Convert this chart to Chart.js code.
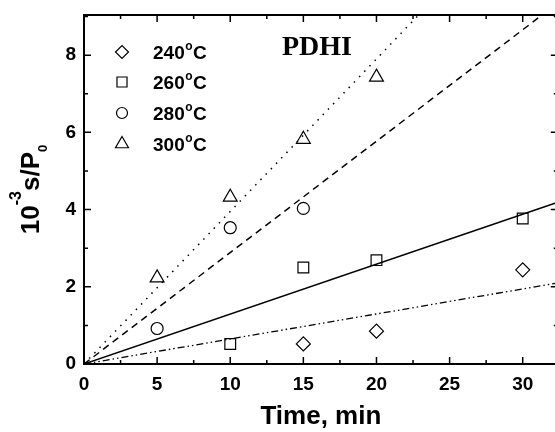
<!DOCTYPE html>
<html>
<head>
<meta charset="utf-8">
<script src="https://cdn.jsdelivr.net/npm/chart.js@4/dist/chart.umd.min.js"></script>
<style>
  html, body { margin: 0; padding: 0; background: #fff; overflow: hidden; }
  #wrap { width: 555px; height: 432px; overflow: hidden; }
  canvas { display: block; }
</style>
</head>
<body>
<div id="wrap"><canvas id="chart" width="567" height="432"></canvas></div>
<script>
const times = [5, 10, 15, 20, 30];
const s240 = [null, null, 0.52, 0.85, 2.44];
const s260 = [null, 0.52, 2.50, 2.69, 3.77];
const s280 = [0.92, 3.53, 4.03, null, null];
const s300 = [2.23, 4.32, 5.82, 7.43, null];

// straight-line fits (start and end points)
const fitX = [0, 32.4];
const fit240 = [0, 2.10];
const fit260 = [0, 4.19];
const fit280 = [0, 9.35];
const fit300 = [0, 12.8];

const labels = ['240', '260', '280', '300'];
const xTicks = [0, 5, 10, 15, 20, 25, 30];
const xMinor = [2.5, 7.5, 12.5, 17.5, 22.5, 27.5, 32.5];
const yTicks = [0, 2, 4, 6, 8];
const yMinor = [1, 3, 5, 7, 9];

const FONT = "'Liberation Sans', Arial, sans-serif";

function pts(xs, ys) {
    const out = [];
    xs.forEach((t, i) => { if (ys[i] !== null) out.push({x: t, y: ys[i]}); });
    return out;
}

const markers = [
    {style: 'rectRot', radius: 7},
    {style: 'rect', radius: 7.6},
    {style: 'circle', radius: 6},
    {style: 'triangle', radius: 8}
];

function pointSet(ys, m) {
    return {
        type: 'scatter',
        data: pts(times, ys),
        pointStyle: m.style,
        pointRadius: m.radius,
        pointBorderWidth: 1.2,
        pointBorderColor: '#000',
        pointBackgroundColor: 'rgba(255,255,255,0)',
        showLine: false
    };
}

function fitSet(ys, dash, width) {
    return {
        type: 'line',
        data: pts(fitX, ys),
        borderColor: '#000',
        borderWidth: width,
        borderDash: dash,
        pointRadius: 0,
        fill: false
    };
}

// ticks pointing inward, plus the box
const framePlugin = {
    id: 'frame',
    afterDatasetsDraw(chart) {
        const {ctx, chartArea: a, scales: {x, y}} = chart;
        ctx.save();
        ctx.strokeStyle = '#000';
        ctx.lineWidth = 2;
        ctx.strokeRect(a.left, a.top, a.right - a.left, a.bottom - a.top);
        ctx.lineWidth = 1.5;
        ctx.beginPath();
        const tick = (v, len, isX) => {
            if (isX) {
                const px = x.getPixelForValue(v);
                ctx.moveTo(px, a.bottom); ctx.lineTo(px, a.bottom - len);
                ctx.moveTo(px, a.top); ctx.lineTo(px, a.top + len);
            } else {
                const py = y.getPixelForValue(v);
                ctx.moveTo(a.left, py); ctx.lineTo(a.left + len, py);
                ctx.moveTo(a.right, py); ctx.lineTo(a.right - len, py);
            }
        };
        xTicks.forEach(v => tick(v, 7, true));
        xMinor.forEach(v => { if (v <= x.max) tick(v, 4, true); });
        yTicks.forEach(v => tick(v, 7, false));
        yMinor.forEach(v => { if (v <= y.max) tick(v, 4, false); });
        ctx.stroke();

        // y axis title with super/subscript
        ctx.fillStyle = '#000';
        ctx.translate(26, (a.top + a.bottom) / 2);
        ctx.rotate(-Math.PI / 2);
        const big = 'bold 26px ' + FONT, sup = 'bold 16px ' + FONT, sub = 'bold 13px ' + FONT;
        const parts = [['10', big, 0], ['-3', sup, -18], ['s/P', big, 0], ['0', sub, 8]];
        let total = 0;
        parts.forEach(p => { ctx.font = p[1]; total += ctx.measureText(p[0]).width; });
        let cx = -total / 2;
        ctx.textBaseline = 'alphabetic';
        ctx.textAlign = 'left';
        parts.forEach(p => {
            ctx.font = p[1];
            ctx.fillText(p[0], cx, 13 + p[2]);
            cx += ctx.measureText(p[0]).width;
        });
        ctx.restore();

        // PDHI label
        ctx.save();
        ctx.fillStyle = '#000';
        ctx.font = "bold 28px 'Liberation Serif', 'Times New Roman', serif";
        ctx.textAlign = 'center';
        ctx.textBaseline = 'alphabetic';
        ctx.fillText('PDHI', 317, 55);

        // legend
        const rowY = [52, 82, 113, 144];
        labels.forEach((lab, i) => {
            const m = markers[i];
            ctx.lineWidth = 1.2;
            ctx.strokeStyle = '#000';
            ctx.fillStyle = 'rgba(255,255,255,0)';
            Chart.helpers.drawPoint(ctx, {pointStyle: m.style, radius: m.radius - 0.5, borderWidth: 1.2}, 122, rowY[i]);
            ctx.fillStyle = '#000';
            ctx.textBaseline = 'alphabetic';
            ctx.textAlign = 'left';
            ctx.font = 'bold 19px ' + FONT;
            let tx = 153;
            const base = rowY[i] + 7;
            ctx.fillText(lab, tx, base);
            tx += ctx.measureText(lab).width + 0.5;
            ctx.font = 'bold 12px ' + FONT;
            ctx.fillText('o', tx, base - 9);
            tx += ctx.measureText('o').width + 0.5;
            ctx.font = 'bold 19px ' + FONT;
            ctx.fillText('C', tx, base);
        });
        ctx.restore();
    }
};

new Chart(document.getElementById('chart'), {
    data: {
        datasets: [
            fitSet(fit240, [7, 3, 1.5, 3, 1.5, 3], 1.3),
            fitSet(fit260, [], 1.5),
            fitSet(fit280, [7, 5], 1.5),
            fitSet(fit300, [1.5, 6], 1.5),
            pointSet(s240, markers[0]),
            pointSet(s260, markers[1]),
            pointSet(s280, markers[2]),
            pointSet(s300, markers[3])
        ]
    },
    options: {
        responsive: false,
        animation: false,
        layout: {padding: {top: 15, right: 1, left: 0, bottom: 0}},
        plugins: {legend: {display: false}, tooltip: {enabled: false}},
        scales: {
            x: {
                type: 'linear',
                min: 0,
                max: 32.4,
                grid: {display: false, drawTicks: false},
                border: {display: false},
                afterBuildTicks: s => { s.ticks = xTicks.map(v => ({value: v})); },
                afterFit: s => { s.height = 68; s.paddingLeft = 0; s.paddingRight = 0; },
                ticks: {
                    padding: 9,
                    color: '#000',
                    maxRotation: 0,
                    font: {family: FONT, size: 19, weight: 'bold'}
                },
                title: {
                    display: true,
                    text: 'Time, min',
                    color: '#000',
                    padding: {top: 10, bottom: 0},
                    font: {family: FONT, size: 26, weight: 'bold'}
                }
            },
            y: {
                type: 'linear',
                min: 0,
                max: 9.04,
                grid: {display: false, drawTicks: false},
                border: {display: false},
                afterBuildTicks: s => { s.ticks = yTicks.map(v => ({value: v})); },
                afterFit: s => { s.width = 84; s.paddingTop = 0; s.paddingBottom = 0; },
                ticks: {
                    padding: 8,
                    color: '#000',
                    font: {family: FONT, size: 19, weight: 'bold'}
                }
            }
        }
    },
    plugins: [framePlugin]
});
</script>
</body>
</html>
